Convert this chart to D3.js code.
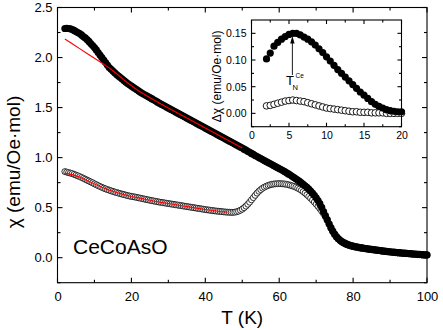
<!DOCTYPE html>
<html><head><meta charset="utf-8">
<script src="https://cdn.jsdelivr.net/npm/d3@7"></script>
<style>
body{margin:0;background:#fff;}
svg{display:block;font-family:"Liberation Sans",Arial,sans-serif;}
</style></head>
<body>
<svg id="c" width="443" height="330"></svg>
<script>
// ---------- data ----------
const fcT = d3.range(2, 100.01, 0.5);
const fcChi = [
 2.29,2.292,2.29,2.287,2.28,2.271,2.26,2.25,2.24,2.226,2.21,2.196,2.18,2.161,2.14,2.12,
 2.10,2.076,2.05,2.025,2.00,1.975,1.95,1.925,1.90,1.882,1.865,1.847,1.83,1.815,1.80,1.785,1.77,1.755,1.74,1.727,
 1.715,1.702,1.69,1.677,1.665,1.652,1.64,1.63,1.62,1.61,1.60,1.589,1.578,1.567,1.556,1.545,1.535,1.525,1.515,1.505,
 1.495,1.485,1.475,1.465,1.455,1.445,1.435,1.425,1.415,1.405,1.395,1.385,1.375,1.365,1.355,1.345,1.335,1.325,1.315,1.305,
 1.295,1.285,1.275,1.265,1.255,1.245,1.235,1.225,1.215,1.205,1.195,1.185,1.175,1.165,1.155,1.145,1.135,1.125,1.115,1.105,
 1.095,1.084,1.074,1.063,1.053,1.042,1.032,1.021,1.011,1.0,0.99,0.98,0.97,0.96,0.95,0.94,0.93,0.92,0.91,0.90,
 0.89,0.88,0.87,0.859,0.848,0.837,0.825,0.813,0.80,0.788,0.775,0.762,0.748,0.733,0.718,0.702,0.685,0.666,0.645,0.623,
 0.598,0.571,0.54,0.502,0.46,0.42,0.38,0.338,0.30,0.265,0.235,0.21,0.19,0.174,0.16,0.15,0.14,0.132,0.125,0.12,
 0.115,0.111,0.107,0.103,0.10,0.097,0.094,0.091,0.088,0.085,0.083,0.08,0.078,0.075,0.073,0.07,0.068,0.065,0.063,0.061,
 0.059,0.057,0.055,0.053,0.051,0.05,0.048,0.046,0.045,0.043,0.042,0.04,0.039,0.037,0.036,0.034,0.033,0.031,0.030,0.029,0.028];
const zfcT = d3.range(2, 100.01, 0.5);
const zfcChi = [
 0.86,0.855,0.85,0.845,0.84,0.833,0.825,0.818,0.81,0.802,0.793,0.784,0.775,0.766,0.757,0.748,
 0.738,0.729,0.72,0.711,0.703,0.695,0.688,0.681,0.675,0.668,0.662,0.656,0.651,0.645,0.64,0.635,0.63,0.625,0.62,0.616,
 0.612,0.609,0.606,0.602,0.598,0.594,0.59,0.586,0.582,0.578,0.574,0.57,0.567,0.563,0.56,0.556,0.553,0.55,0.547,0.544,
 0.541,0.538,0.535,0.532,0.529,0.526,0.523,0.52,0.517,0.514,0.511,0.508,0.505,0.502,0.499,0.496,0.493,0.49,0.487,0.484,
 0.481,0.478,0.476,0.473,0.471,0.468,0.466,0.464,0.462,0.46,0.458,0.456,0.455,0.454,0.453,0.453,0.455,0.459,0.465,0.474,
 0.485,0.499,0.515,0.534,0.555,0.578,0.60,0.623,0.645,0.664,0.68,0.694,0.705,0.714,0.722,0.728,0.733,0.736,0.738,0.739,
 0.74,0.739,0.738,0.736,0.733,0.729,0.724,0.718,0.712,0.704,0.695,0.685,0.673,0.66,0.645,0.629,0.612,0.594,0.575,0.556,
 0.535,0.513,0.49,0.465,0.44,0.41,0.375,0.335,0.295,0.26,0.23,0.205,0.185,0.169,0.155,0.145,0.135,0.127,0.12,0.115,
 0.11,0.106,0.102,0.099,0.096,0.093,0.09,0.087,0.085,0.082,0.08,0.077,0.075,0.072,0.07,0.067,0.065,0.062,0.06,0.058,
 0.056,0.054,0.052,0.05,0.048,0.047,0.045,0.043,0.042,0.04,0.039,0.037,0.036,0.034,0.033,0.031,0.030,0.028,0.027,0.026,0.025];
const fitFcT = [2,4,6,8,10,12,14,16,18,20,22,24,26,28,30,32,34,36,38,40,42,44,46,48,50];
const fitFcChi = [2.185,2.137,2.089,2.041,1.993,1.945,1.897,1.838,1.775,1.718,1.665,1.62,
 1.578,1.535,1.495,1.455,1.415,1.375,1.335,1.295,1.255,1.215,1.175,1.135,1.095];
const fitZfcT = [2,4,6,8,10,12,14,16,18,20,22,24,26,28,30,32,34,36,38,40,42,44,46];
const fitZfcChi = [0.845,0.83,0.805,0.772,0.737,0.703,0.675,0.651,0.63,0.612,0.598,0.582,
 0.567,0.553,0.541,0.529,0.517,0.505,0.493,0.481,0.471,0.462,0.455];
const insT = d3.range(2, 20.01, 0.5);
const insFilled = [0.102,0.113,0.126,0.133,0.139,0.144,0.148,0.150,0.150,0.147,0.143,0.139,
 0.134,0.128,0.121,0.114,0.106,0.098,0.090,0.082,0.075,0.068,0.061,0.054,0.047,0.040,0.034,
 0.028,0.022,0.017,0.013,0.010,0.007,0.005,0.004,0.003,0.003];
const insOpen = [0.014,0.015,0.017,0.019,0.021,0.023,0.024,0.025,0.024,0.023,0.022,0.020,
 0.018,0.016,0.014,0.012,0.010,0.009,0.008,0.007,0.006,0.005,0.004,0.003,0.003,0.002,0.002,
 0.002,0.001,0.001,0.001,0.001,0.0,0.0,0.0,0.0,0.0];
const mainXTicks = [0,20,40,60,80,100];
const mainYTicks = ["0.0","0.5","1.0","1.5","2.0","2.5"];
const insXTicks = [0,5,10,15,20];
const insYTicks = ["0.00","0.05","0.10","0.15"];
const peakT = 5.45;

// ---------- drawing ----------
const svg = d3.select("#c");
const M = {l:57.5, r:427, t:7.5, b:282.7};
const x = d3.scaleLinear().domain([0,100]).range([M.l, M.r]);
const y = d3.scaleLinear().domain([-0.25,2.5]).range([M.b, M.t]);

function frame(g, xs, ys, xMaj, xMin, yMaj, yMin, L, l){
  const [x0,x1] = xs.range(), [y0,y1] = ys.range();
  const tk = (vals, len) => vals.forEach(v=>{
      const px = xs(v);
      g.append("line").attr("x1",px).attr("x2",px).attr("y1",y0).attr("y2",y0-len);
      g.append("line").attr("x1",px).attr("x2",px).attr("y1",y1).attr("y2",y1+len);
  });
  const tky = (vals, len) => vals.forEach(v=>{
      const py = ys(v);
      g.append("line").attr("x1",x0).attr("x2",x0+len).attr("y1",py).attr("y2",py);
      g.append("line").attr("x1",x1).attr("x2",x1-len).attr("y1",py).attr("y2",py);
  });
  tk(xMaj, L); tk(xMin, l); tky(yMaj, L); tky(yMin, l);
  g.append("rect").attr("x",x0).attr("y",y1).attr("width",x1-x0).attr("height",y0-y1)
    .attr("fill","none");
  g.attr("stroke","#000").attr("stroke-width",1.1);
}

const gx = svg.append("g").attr("transform",`translate(0,${M.b})`)
  .call(d3.axisBottom(x).tickValues(mainXTicks).tickSize(0).tickPadding(9).tickFormat(d3.format("d")));
const gy = svg.append("g").attr("transform",`translate(${M.l},0)`)
  .call(d3.axisLeft(y).tickValues(mainYTicks.map(Number)).tickSize(0).tickPadding(5)
  .tickFormat((d,i)=>mainYTicks[i]));
[gx,gy].forEach(g=>{g.select(".domain").remove(); g.selectAll("text").attr("font-size",13)
  .attr("font-family","Liberation Sans, Arial, sans-serif").attr("fill","#000");});

// open (ZFC) series
svg.append("g").selectAll("circle").data(zfcT).join("circle")
  .attr("cx",(d)=>x(d)).attr("cy",(d,i)=>y(zfcChi[i])).attr("r",3)
  .attr("fill","#fff").attr("stroke","#000").attr("stroke-width",0.8);
// filled (FC) series
svg.append("g").selectAll("circle").data(fcT).join("circle")
  .attr("cx",(d)=>x(d)).attr("cy",(d,i)=>y(fcChi[i])).attr("r",3.6).attr("fill","#000");

const line = d3.line();
svg.append("path").attr("d", line(fitFcT.map((t,i)=>[x(t), y(fitFcChi[i])])))
  .attr("fill","none").attr("stroke","#ff0000").attr("stroke-width",1.1);
svg.append("path").attr("d", line(fitZfcT.map((t,i)=>[x(t), y(fitZfcChi[i])])))
  .attr("fill","none").attr("stroke","#ff0000").attr("stroke-width",1.1);

frame(svg.append("g"), x, y, [0,20,40,60,80,100], [10,30,50,70,90],
  [0,0.5,1,1.5,2,2.5], [-0.25,0.25,0.75,1.25,1.75,2.25], 5, 3);

svg.append("text").attr("x", 73).attr("y", 254).attr("font-size",21).text("CeCoAsO");
svg.append("text").attr("x", (M.l+M.r)/2).attr("y", 323.5).attr("text-anchor","middle")
  .attr("font-size",19).text("T (K)");
svg.append("text").attr("transform",`translate(20,162) rotate(-90)`)
  .attr("text-anchor","middle").attr("font-size",19).text("χ (emu/Oe·mol)");

// ---------- inset ----------
const I = {l:251.5, r:401.5, t:20, b:126.7};
const ix = d3.scaleLinear().domain([0,20]).range([I.l, I.r]);
const iy = d3.scaleLinear().domain([-0.025,0.175]).range([I.b, I.t]);
svg.append("rect").attr("x",I.l).attr("y",I.t).attr("width",I.r-I.l).attr("height",I.b-I.t).attr("fill","#fff");
const igx = svg.append("g").attr("transform",`translate(0,${I.b})`)
  .call(d3.axisBottom(ix).tickValues(insXTicks).tickSize(0).tickPadding(5).tickFormat(d3.format("d")));
const igy = svg.append("g").attr("transform",`translate(${I.l},0)`)
  .call(d3.axisLeft(iy).tickValues(insYTicks.map(Number)).tickSize(0).tickPadding(5)
  .tickFormat((d,i)=>insYTicks[i]));
[igx,igy].forEach(g=>{g.select(".domain").remove(); g.selectAll("text").attr("font-size",10.5)
  .attr("font-family","Liberation Sans, Arial, sans-serif").attr("fill","#000");});

svg.append("g").selectAll("circle").data(insT).join("circle")
  .attr("cx",d=>ix(d)).attr("cy",(d,i)=>iy(insOpen[i])).attr("r",3.3)
  .attr("fill","#fff").attr("stroke","#000").attr("stroke-width",0.9);
svg.append("g").selectAll("circle").data(insT).join("circle")
  .attr("cx",d=>ix(d)).attr("cy",(d,i)=>iy(insFilled[i])).attr("r",3.6).attr("fill","#000");

frame(svg.append("g"), ix, iy, [0,5,10,15,20], [2.5,7.5,12.5,17.5],
  [0,0.05,0.1,0.15], [-0.025,0.025,0.075,0.125], 4, 2.5);

svg.append("text").attr("transform",`translate(221,${(I.t+I.b)/2 + 3}) rotate(-90)`)
  .attr("text-anchor","middle").attr("font-size",12).text("Δχ (emu/Oe·mol)");

// arrow to peak
const ax = ix(peakT);
svg.append("line").attr("x1",ax).attr("x2",ax).attr("y1",iy(0.072)).attr("y2",iy(0.140))
  .attr("stroke","#000").attr("stroke-width",0.9);
svg.append("path").attr("d",`M${ax},${iy(0.145)} L${ax-2.2},${iy(0.131)} L${ax+2.2},${iy(0.131)} Z`)
  .attr("fill","#000");
const tn = svg.append("g");
tn.append("text").attr("x",286).attr("y",85).attr("font-size",13).text("T");
tn.append("text").attr("x",292.5).attr("y",89.5).attr("font-size",7.5).text("N");
tn.append("text").attr("x",295.5).attr("y",77.5).attr("font-size",6.5).text("Ce");
</script>
</body></html>
